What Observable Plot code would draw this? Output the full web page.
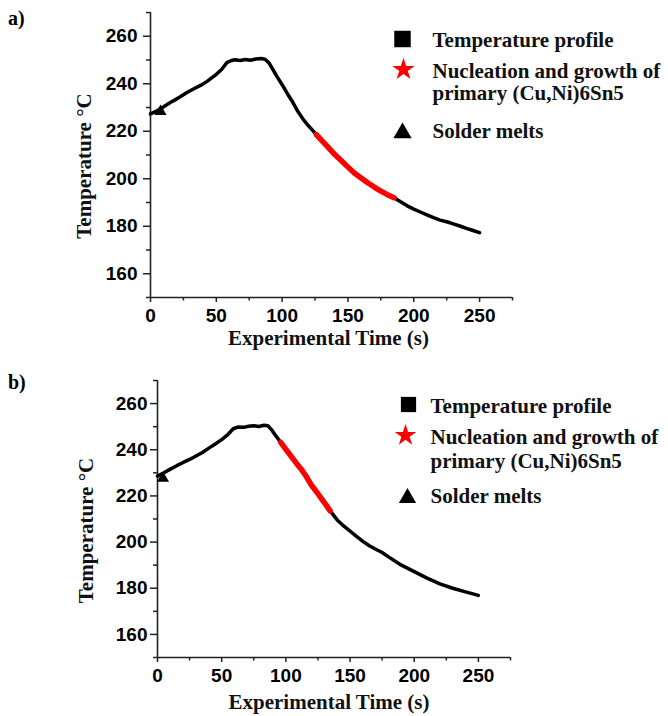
<!DOCTYPE html>
<html>
<head>
<meta charset="utf-8">
<script src="https://cdn.jsdelivr.net/npm/d3@7"></script>
<script src="https://cdn.jsdelivr.net/npm/@observablehq/plot@0.6"></script>
<style>
  html, body { margin: 0; padding: 0; background: #fff; }
  body { width: 668px; height: 716px; position: relative; overflow: hidden; }
  .panel { position: absolute; left: 0; width: 668px; }
  .plabel { position: absolute; left: 8px; font: bold 20px "Liberation Serif", "Times New Roman", serif; line-height: 20px; color: #000; }
</style>
</head>
<body>
<div id="panelA" class="panel" style="top:0px"></div>
<div id="panelB" class="panel" style="top:358px"></div>
<div class="plabel" style="top:8px">a)</div>
<div class="plabel" style="top:372px">b)</div>
<script>
// ---- shared axis data ----
const xMajor = [0, 50, 100, 150, 200, 250];
const xMinor = [25, 75, 125, 175, 225, 275];
const yMajor = [160, 180, 200, 220, 240, 260];
const yMinor = [150, 170, 190, 210, 230, 250, 270];
const xDomain = [0, 275];
const yDomain = [150, 270];
const xLabel = "Experimental Time (s)";
const yLabel = "Temperature °C";
const legendLabels = ["Temperature profile", "Nucleation and growth of", "primary (Cu,Ni)6Sn5", "Solder melts"];
const legendSymbols = ["square", "star", null, "triangle"];
const legendColors = ["#000000", "#ff0000", null, "#000000"];

// ---- panel a) ----
const aTimeHeat = [0, 5, 10, 15, 18, 22, 28, 33, 38, 43, 49, 54, 58, 61, 64, 68, 72, 76, 80, 84, 87, 90, 93, 96, 100, 104, 108, 112, 116, 120, 123, 126];
const aTempHeat = [227.3, 228.6, 230.3, 232.1, 233.0, 234.3, 236.4, 237.9, 239.3, 241.0, 243.5, 246.0, 248.9, 249.7, 250.1, 249.8, 250.2, 249.9, 250.4, 250.6, 250.3, 248.8, 246.0, 243.1, 239.6, 235.8, 232.3, 228.3, 225.0, 222.3, 220.5, 218.6];
const aTimeNucl = [126, 130, 135, 140, 145, 150, 155, 160, 165, 170, 175, 180, 185];
const aTempNucl = [218.6, 216.2, 213.2, 210.2, 207.6, 204.9, 202.3, 200.3, 198.3, 196.5, 194.8, 193.3, 192.0];
const aTimeCool = [185, 190, 195, 200, 205, 210, 215, 220, 225, 230, 235, 240, 245, 250];
const aTempCool = [192.0, 190.3, 188.6, 187.2, 186.0, 184.8, 183.6, 182.6, 181.9, 181.0, 180.1, 179.1, 178.2, 177.3];
const aMeltTime = [7.6];
const aMeltTemp = [228.3];

// ---- panel b) ----
const bTimeHeat = [0, 5, 10, 15, 20, 25, 30, 35, 40, 45, 50, 55, 59, 63, 67, 71, 75, 79, 83, 86, 89, 92, 96];
const bTempHeat = [228.6, 230.0, 231.6, 233.1, 234.5, 235.8, 237.3, 238.8, 240.7, 242.5, 244.4, 246.7, 249.1, 249.9, 249.7, 250.2, 250.4, 250.1, 250.6, 250.4, 248.6, 246.2, 243.2];
const bTimeNucl = [96, 100, 104, 108, 112, 116, 120, 124, 128, 131, 134.5];
const bTempNucl = [243.2, 240.2, 237.2, 234.3, 231.6, 228.3, 224.6, 221.7, 218.6, 216.3, 213.5];
const bTimeCool = [134.5, 140, 145, 150, 155, 160, 165, 170, 175, 180, 190, 200, 210, 220, 230, 240, 250];
const bTempCool = [213.5, 209.6, 207.0, 204.8, 202.5, 200.3, 198.4, 196.9, 195.5, 193.6, 190.0, 187.2, 184.4, 181.9, 180.0, 178.4, 176.9];
const bMeltTime = [4.3];
const bMeltTemp = [227.6];

const rows = (ts, vs) => ts.map((t, i) => ({t, T: vs[i]}));
const serif = "Liberation Serif, Times New Roman, serif";
const axisColor = "#222";

function panel(target, cfg) {
  const legendMarks = [];
  legendLabels.forEach((lab, i) => {
    if (legendSymbols[i]) {
      legendMarks.push(Plot.dot([lab], {
        frameAnchor: "top-left", dx: cfg.legSym[i][0], dy: cfg.legSym[i][1],
        symbol: legendSymbols[i], r: cfg.legR[i], fill: legendColors[i], stroke: "none"
      }));
    }
    legendMarks.push(Plot.text([lab], {
      frameAnchor: "top-left", dx: cfg.legTextX, dy: cfg.legTextY[i], text: d => d,
      textAnchor: "start", lineAnchor: "middle", fontFamily: serif, fontSize: 21, fontWeight: "bold", fill: "#111"
    }));
  });

  const chart = Plot.plot({
    width: 668, height: 358,
    marginLeft: cfg.m[0], marginTop: cfg.m[1], marginRight: cfg.m[2], marginBottom: cfg.m[3],
    x: {domain: xDomain},
    y: {domain: yDomain},
    style: {fontFamily: "Liberation Sans, Arial, sans-serif", fontSize: "19px", fontWeight: "bold", color: "#000", background: "#fff", overflow: "visible"},
    marks: [
      Plot.ruleX([xDomain[0]], {stroke: axisColor, strokeWidth: 1.6}),
      Plot.ruleY([yDomain[0]], {stroke: axisColor, strokeWidth: 1.6}),
      Plot.axisX({ticks: xMajor, tickSize: 5, tickPadding: 6, label: null, stroke: axisColor, strokeWidth: 1.5}),
      Plot.axisX({ticks: xMinor, tickSize: 3.5, tickFormat: () => "", label: null, stroke: axisColor, strokeWidth: 1.5}),
      Plot.axisY({ticks: yMajor, tickSize: 7, tickPadding: cfg.ypad, label: null, stroke: axisColor, strokeWidth: 1.5}),
      Plot.axisY({ticks: yMinor, tickSize: 4, tickFormat: () => "", label: null, stroke: axisColor, strokeWidth: 1.5}),
      Plot.line(rows(cfg.heat[0], cfg.heat[1]), {x: "t", y: "T", stroke: "#000", strokeWidth: 3.5, strokeLinejoin: "round", strokeLinecap: "round"}),
      Plot.line(rows(cfg.cool[0], cfg.cool[1]), {x: "t", y: "T", stroke: "#000", strokeWidth: 3.5, strokeLinejoin: "round", strokeLinecap: "round"}),
      Plot.line(rows(cfg.nucl[0], cfg.nucl[1]), {x: "t", y: "T", stroke: "#ff0000", strokeWidth: 5.5, strokeLinejoin: "round"}),
      Plot.dot(rows(cfg.melt[0], cfg.melt[1]), {x: "t", y: "T", symbol: "triangle", r: 4.5, fill: "#000", stroke: "none"}),
      Plot.text([xLabel], {frameAnchor: "bottom", dx: cfg.xl[0], dy: cfg.xl[1], text: d => d, textAnchor: "middle", lineAnchor: "middle", fontFamily: serif, fontSize: 21, fontWeight: "bold", fill: "#111"}),
      Plot.text([yLabel], {frameAnchor: "left", dx: cfg.yl[0], dy: cfg.yl[1], rotate: -90, text: d => d, textAnchor: "middle", lineAnchor: "middle", fontFamily: serif, fontSize: 21, fontWeight: "bold", fill: "#111"}),
      ...legendMarks
    ]
  });
  document.getElementById(target).appendChild(chart);
}

panel("panelA", {
  m: [150, 12, 156, 61], ypad: 6,
  heat: [aTimeHeat, aTempHeat], nucl: [aTimeNucl, aTempNucl], cool: [aTimeCool, aTempCool], melt: [aMeltTime, aMeltTemp],
  xl: [-3, 41], yl: [-66, 11],
  legSym: [[252, 26.5], [253, 57], null, [252, 120.5]], legR: [9.3, 7, 0, 6.8],
  legTextX: 282, legTextY: [27.6, 58.3, 80.6, 118.3]
});
panel("panelB", {
  m: [157, 22, 158, 59], ypad: 3,
  heat: [bTimeHeat, bTempHeat], nucl: [bTimeNucl, bTempNucl], cool: [bTimeCool, bTempCool], melt: [bMeltTime, bMeltTemp],
  xl: [-5, 44.5], yl: [-71.5, 11.5],
  legSym: [[251, 24], [248, 55], null, [250, 117.5]], legR: [8.6, 6.8, 0, 6.4],
  legTextX: 273, legTextY: [25.3, 56.9, 80.9, 115.3]
});
</script>
</body>
</html>
